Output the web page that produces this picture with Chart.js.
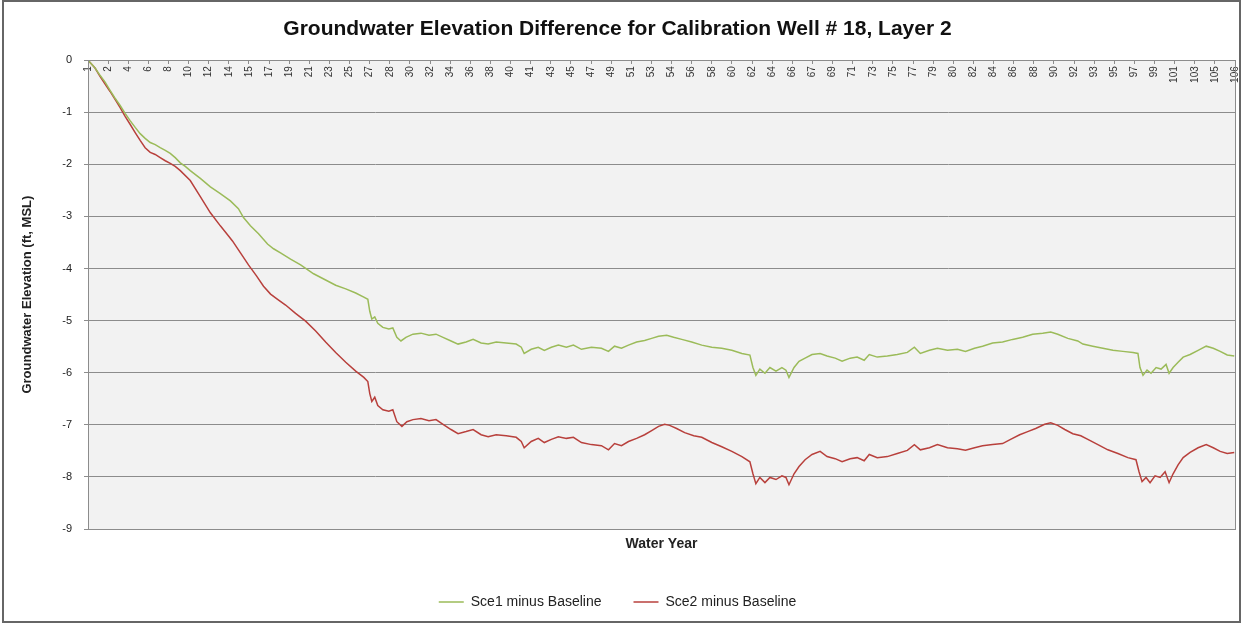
<!DOCTYPE html>
<html>
<head>
<meta charset="utf-8">
<script src="https://cdn.jsdelivr.net/npm/chart.js@4.4.1/dist/chart.umd.min.js"></script>
<style>
  html, body { margin: 0; padding: 0; background: #fff; }
  #wrap { width: 1242px; height: 623px; position: relative; }
</style>
</head>
<body>
<div id="wrap"><canvas id="chart"></canvas></div>
<script>
// category labels shown along the top axis (every ~22 months)
const xTickLabels = ['1','2','4','6','8','10','12','14','15','17','19','21','23','25','27','28','30','32','34','36',
  '38','40','41','43','45','47','49','51','53','54','56','58','60','62','64','66','67','69','71','73',
  '75','77','79','80','82','84','86','88','90','92','93','95','97','99','101','103','105','106'];

// Sce1 minus Baseline (ft)
const sce1Years = [1, 1.65, 2.11, 2.58, 3.04, 3.5, 3.97, 4.43, 4.89, 5.36, 5.82, 6.28, 6.75, 7.21, 7.67, 8.14, 8.6, 9.06, 9.53, 9.99,
  10.45, 11.38, 12.31, 13.23, 14.16, 14.9, 15.37, 16.01, 16.76, 17.59, 18.15, 18.79, 19.72, 20.65, 21.85, 22.96, 23.89, 24.82, 25.74, 26.49,
  26.86, 27.04, 27.23, 27.5, 27.78, 28.25, 28.8, 29.17, 29.54, 29.92, 30.38, 31.03, 31.77, 32.51, 33.16, 33.81, 34.55, 35.2, 35.94, 36.59,
  37.33, 37.98, 38.72, 39.65, 40.57, 41.04, 41.31, 41.96, 42.61, 43.17, 43.82, 44.47, 45.21, 45.86, 46.6, 47.52, 48.45, 49.1, 49.66, 50.3,
  50.95, 51.7, 52.44, 53.09, 53.73, 54.48, 55.12, 55.87, 56.79, 57.72, 58.65, 59.57, 60.5, 61.43, 62.17, 62.45, 62.72, 63.09, 63.56, 64.02,
  64.58, 65.13, 65.5, 65.78, 66.25, 66.71, 67.27, 67.91, 68.66, 69.3, 70.05, 70.69, 71.44, 72.08, 72.73, 73.2, 73.94, 74.87, 75.79, 76.72,
  77.37, 77.92, 78.76, 79.5, 80.43, 81.35, 82.09, 82.93, 83.67, 84.6, 85.52, 86.45, 87.38, 88.3, 89.23, 89.97, 90.62, 91.55, 92.47, 92.94,
  93.86, 94.79, 95.72, 96.64, 97.57, 98.03, 98.22, 98.5, 98.87, 99.24, 99.71, 100.17, 100.63, 100.91, 101.28, 101.74, 102.21, 102.85, 103.59, 104.34,
  104.99, 105.63, 106.28, 106.93];
const sce1Diff = [0, -0.15, -0.29, -0.42, -0.58, -0.73, -0.87, -1.02, -1.16, -1.29, -1.41, -1.5, -1.58, -1.62, -1.68, -1.73, -1.79, -1.87, -1.97, -2.04,
  -2.12, -2.27, -2.43, -2.56, -2.7, -2.85, -3.02, -3.18, -3.33, -3.53, -3.62, -3.7, -3.82, -3.93, -4.1, -4.22, -4.32, -4.39, -4.47, -4.55,
  -4.59, -4.82, -4.97, -4.93, -5.05, -5.13, -5.16, -5.14, -5.32, -5.39, -5.32, -5.26, -5.24, -5.28, -5.26, -5.32, -5.39, -5.45, -5.41, -5.36,
  -5.43, -5.45, -5.41, -5.43, -5.45, -5.51, -5.63, -5.55, -5.51, -5.57, -5.51, -5.47, -5.51, -5.47, -5.55, -5.51, -5.53, -5.59, -5.49, -5.53,
  -5.47, -5.41, -5.38, -5.34, -5.3, -5.28, -5.32, -5.36, -5.41, -5.47, -5.51, -5.53, -5.57, -5.63, -5.66, -5.9, -6.05, -5.93, -6.01, -5.9,
  -5.97, -5.9, -5.95, -6.09, -5.9, -5.78, -5.72, -5.65, -5.63, -5.68, -5.72, -5.78, -5.72, -5.7, -5.76, -5.65, -5.7, -5.68, -5.65, -5.61,
  -5.51, -5.63, -5.57, -5.53, -5.57, -5.55, -5.59, -5.53, -5.49, -5.43, -5.41, -5.36, -5.32, -5.26, -5.24, -5.22, -5.26, -5.34, -5.39, -5.45,
  -5.49, -5.53, -5.57, -5.59, -5.61, -5.63, -5.9, -6.05, -5.95, -6.01, -5.9, -5.93, -5.84, -6.01, -5.9, -5.8, -5.7, -5.65, -5.57, -5.49,
  -5.53, -5.59, -5.66, -5.68];

// Sce2 minus Baseline (ft)
const sce2Years = [1, 1.65, 2.11, 2.58, 3.04, 3.5, 3.97, 4.43, 4.89, 5.36, 5.82, 6.28, 6.75, 7.21, 7.67, 8.14, 8.6, 9.06, 9.53, 10.45,
  11.38, 12.31, 13.23, 13.97, 14.35, 15.09, 15.83, 16.57, 17.22, 17.87, 18.52, 19.26, 20.18, 21.11, 22.04, 22.96, 23.89, 24.82, 25.74, 26.49,
  26.86, 27.04, 27.23, 27.5, 27.78, 28.25, 28.8, 29.17, 29.54, 30.01, 30.47, 31.03, 31.77, 32.51, 33.16, 33.81, 34.55, 35.2, 35.94, 36.59,
  37.33, 37.98, 38.72, 39.65, 40.57, 41.04, 41.31, 41.96, 42.61, 43.17, 43.82, 44.47, 45.21, 45.86, 46.6, 47.52, 48.45, 49.1, 49.66, 50.3,
  50.95, 51.7, 52.44, 53.09, 53.73, 54.29, 54.75, 55.4, 56.14, 56.98, 57.72, 58.65, 59.57, 60.5, 61.43, 62.17, 62.45, 62.72, 63.09, 63.56,
  64.02, 64.58, 65.13, 65.5, 65.78, 66.25, 66.71, 67.27, 67.91, 68.66, 69.3, 70.05, 70.69, 71.44, 72.08, 72.73, 73.2, 73.94, 74.87, 75.79,
  76.72, 77.37, 77.92, 78.76, 79.5, 80.43, 81.35, 82.09, 82.93, 83.67, 84.6, 85.52, 86.26, 87.1, 87.84, 88.58, 89.41, 89.97, 90.62, 91.27,
  92.01, 92.75, 93.4, 94.33, 95.25, 96.18, 97.1, 97.85, 98.13, 98.41, 98.78, 99.15, 99.61, 100.08, 100.54, 100.91, 101.28, 101.74, 102.21, 102.85,
  103.59, 104.34, 104.99, 105.63, 106.28, 106.93];
const sce2Diff = [0, -0.15, -0.31, -0.46, -0.6, -0.75, -0.91, -1.08, -1.23, -1.39, -1.54, -1.68, -1.77, -1.81, -1.87, -1.93, -1.98, -2.04, -2.12, -2.31,
  -2.62, -2.93, -3.18, -3.37, -3.47, -3.7, -3.93, -4.14, -4.34, -4.49, -4.59, -4.7, -4.86, -5.01, -5.2, -5.41, -5.61, -5.8, -5.97, -6.09,
  -6.17, -6.4, -6.55, -6.47, -6.63, -6.71, -6.74, -6.71, -6.94, -7.03, -6.94, -6.9, -6.88, -6.92, -6.9, -6.99, -7.09, -7.17, -7.13, -7.09,
  -7.19, -7.23, -7.19, -7.21, -7.24, -7.32, -7.44, -7.32, -7.26, -7.34, -7.28, -7.23, -7.26, -7.24, -7.34, -7.38, -7.4, -7.48, -7.36, -7.4,
  -7.32, -7.26, -7.19, -7.11, -7.03, -6.99, -7.01, -7.07, -7.15, -7.21, -7.24, -7.34, -7.42, -7.51, -7.61, -7.71, -7.94, -8.13, -8.01, -8.11,
  -8.01, -8.05, -7.98, -8.01, -8.15, -7.94, -7.8, -7.67, -7.57, -7.51, -7.61, -7.65, -7.71, -7.65, -7.63, -7.69, -7.57, -7.63, -7.61, -7.55,
  -7.49, -7.38, -7.48, -7.44, -7.38, -7.44, -7.46, -7.49, -7.44, -7.4, -7.38, -7.36, -7.28, -7.19, -7.13, -7.07, -6.99, -6.96, -7.01, -7.09,
  -7.17, -7.21, -7.28, -7.38, -7.48, -7.55, -7.63, -7.67, -7.9, -8.09, -8.01, -8.11, -7.98, -8.01, -7.9, -8.11, -7.94, -7.77, -7.63, -7.53,
  -7.44, -7.38, -7.44, -7.51, -7.55, -7.53];

const FONT = "'Liberation Sans', Arial, sans-serif";

const toPoints = (xs, ys) => xs.map((x, i) => ({ x, y: ys[i] }));

// grey plot area + outer frame like the spreadsheet chart
const plotFrame = {
  id: 'plotFrame',
  beforeDraw(chart) {
    const { ctx, chartArea: a } = chart;
    ctx.save();
    ctx.fillStyle = '#f2f2f2';
    ctx.fillRect(a.left, a.top, a.right - a.left, a.bottom - a.top);
    ctx.restore();
  },
  afterDraw(chart) {
    const { ctx, chartArea: a, width, height } = chart;
    ctx.save();
    ctx.strokeStyle = '#8c8c8c';
    ctx.lineWidth = 1;
    ctx.strokeRect(Math.round(a.left) + 0.5, Math.round(a.top) + 0.5, Math.round(a.right - a.left), Math.round(a.bottom - a.top));
    ctx.strokeStyle = '#666';
    ctx.lineWidth = 2;
    ctx.strokeRect(3, 1, width - 5, height - 2);
    ctx.restore();
  }
};

new Chart(document.getElementById('chart'), {
  type: 'line',
  data: {
    datasets: [
      { label: 'Sce1 minus Baseline', data: toPoints(sce1Years, sce1Diff), borderColor: '#9bbb59', backgroundColor: '#9bbb59', borderWidth: 1.5, pointRadius: 0, tension: 0 },
      { label: 'Sce2 minus Baseline', data: toPoints(sce2Years, sce2Diff), borderColor: '#b8403c', backgroundColor: '#b8403c', borderWidth: 1.5, pointRadius: 0, tension: 0 }
    ]
  },
  options: {
    responsive: true,
    maintainAspectRatio: false,
    animation: false,
    layout: { padding: { left: 0, right: 7, top: 0, bottom: 4 } },
    plugins: {
      title: {
        display: true,
        text: 'Groundwater Elevation Difference for Calibration Well # 18, Layer 2',
        font: { family: FONT, size: 21, weight: 'bold' },
        color: '#111',
        padding: { top: 17, bottom: 18 }
      },
      legend: {
        position: 'bottom',
        labels: {
          usePointStyle: true,
          pointStyle: 'line',
          pointStyleWidth: 25,
          padding: 32,
          font: { family: FONT, size: 14 },
          color: '#222'
        }
      },
      tooltip: { enabled: false }
    },
    scales: {
      x: {
        type: 'linear',
        min: 1,
        max: 107,
        position: { y: 0 },
        afterBuildTicks(scale) {
          const step = (scale.max - scale.min) / (xTickLabels.length - 1);
          scale.ticks = xTickLabels.map((_, i) => ({ value: scale.min + i * step }));
        },
        afterFit(scale) { scale.paddingRight = 0; },
        ticks: {
          autoSkip: false,
          minRotation: 90,
          maxRotation: 90,
          padding: 3,
          font: { family: FONT, size: 10 },
          color: '#333',
          callback: (v, i) => xTickLabels[i]
        },
        grid: { display: true, drawOnChartArea: false, tickLength: 3, color: '#8c8c8c' },
        border: { color: '#8c8c8c' }
      },
      xb: {
        type: 'linear',
        position: 'bottom',
        afterFit(scale) { scale.height = 34; },
        ticks: { display: false },
        grid: { display: false },
        border: { display: false },
        title: {
          display: true,
          text: 'Water Year',
          font: { family: FONT, size: 14, weight: 'bold' },
          color: '#222',
          padding: { top: 4, bottom: 10 }
        }
      },
      y: {
        min: -9,
        max: 0,
        afterFit(scale) { scale.width = 88; },
        ticks: { stepSize: 1, padding: 12, font: { family: FONT, size: 11 }, color: '#222' },
        grid: { color: '#8c8c8c', tickLength: 4 },
        border: { color: '#8c8c8c' },
        title: {
          display: true,
          text: 'Groundwater Elevation (ft, MSL)',
          font: { family: FONT, size: 13, weight: 'bold' },
          color: '#222',
          padding: { top: 20, bottom: 0 }
        }
      }
    }
  },
  plugins: [plotFrame]
});
</script>
</body>
</html>
